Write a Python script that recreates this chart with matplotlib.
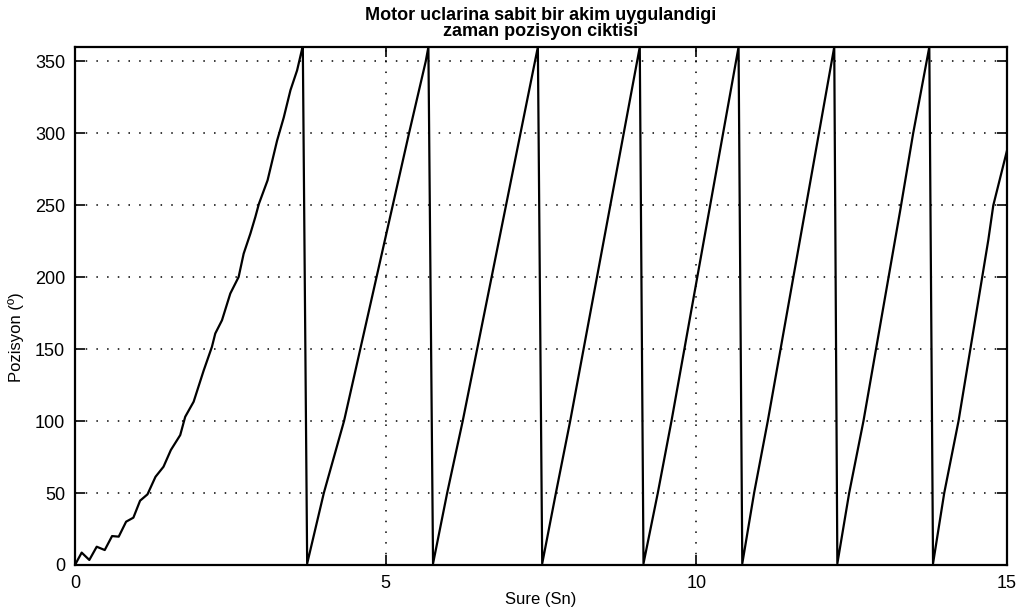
import numpy as np
import matplotlib
matplotlib.use("Agg")
import matplotlib.pyplot as plt

plt.rcParams['font.family'] = ['Liberation Sans', 'DejaVu Sans']

# first run-up from rest (with the small oscillations at start)
start_t = [0.0, 0.05, 0.108, 0.231, 0.35, 0.479, 0.597, 0.704, 0.823, 0.94,
           1.048, 1.167, 1.296, 1.425, 1.543, 1.694, 1.774, 1.91, 2.07, 2.204,
           2.258, 2.366, 2.5, 2.634, 2.715, 2.823, 2.903, 2.96, 3.10, 3.253,
           3.36, 3.468, 3.575, 3.656, 3.667]
start_p = [0.0, 4.0, 8.6, 3.5, 12.7, 10.4, 20.1, 19.7, 30.1, 32.9,
           44.7, 49.1, 61.3, 68.3, 79.9, 90.3, 103.0, 113.5, 135.0, 151.6,
           160.9, 170.1, 188.7, 200.2, 216.4, 230.3, 241.9, 251.0, 267.4, 295.0,
           311.0, 330.0, 343.8, 358.8, 360.0]

# following turns, position wraps at 360 degrees
turn_t = [
    [3.737, 4.005, 4.33, 5.376, 5.645, 5.688],
    [5.763, 5.99, 6.24, 7.17, 7.45],
    [7.52, 7.74, 7.97, 9.09],
    [9.15, 9.38, 9.60, 10.68],
    [10.74, 10.93, 11.15, 12.22],
    [12.27, 12.46, 12.69, 13.28, 13.49, 13.75],
    [13.81, 13.99, 14.22, 14.70, 14.78, 15.0],
]
turn_p = [
    [1, 50, 100, 300, 350, 360],
    [1, 50, 100, 300, 360],
    [1, 50, 100, 360],
    [1, 50, 100, 360],
    [1, 50, 100, 360],
    [1, 50, 100, 246, 300, 360],
    [1, 50, 100, 226, 250, 288],
]

t = list(start_t)
p = list(start_p)
for tt, pp in zip(turn_t, turn_p):
    t += tt
    p += pp

fig = plt.figure(figsize=(10.27, 6.11), dpi=100)
ax = fig.add_axes([0.073, 0.0753, 0.9075, 0.8477])

ax.plot(t, p, color='black', linewidth=1.6, solid_joinstyle='round')

ax.set_xlim(0, 15)
ax.set_ylim(0, 360)
ax.set_xticks([0, 5, 10, 15])
ax.set_yticks(np.arange(0, 351, 50))
ax.grid(True, linestyle=(0, (1, 6)), color='black', linewidth=1.1)
ax.tick_params(direction='in', length=7, width=1.2, top=True, right=True,
               labelsize=13, pad=7)
for s in ax.spines.values():
    s.set_linewidth(1.6)

ax.set_title('Motor uclarina sabit bir akim uygulandigi\nzaman pozisyon ciktisi',
             fontsize=13, fontweight='bold', linespacing=0.95, pad=8)
ax.set_xlabel('Sure (Sn)', fontsize=12, labelpad=0)
ax.set_ylabel('Pozisyon (º)', fontsize=12,
              family=['Liberation Sans Narrow', 'Liberation Sans', 'DejaVu Sans'])
ax.yaxis.set_label_coords(-0.055, 0.44)

fig.savefig('out.png', dpi=100)
